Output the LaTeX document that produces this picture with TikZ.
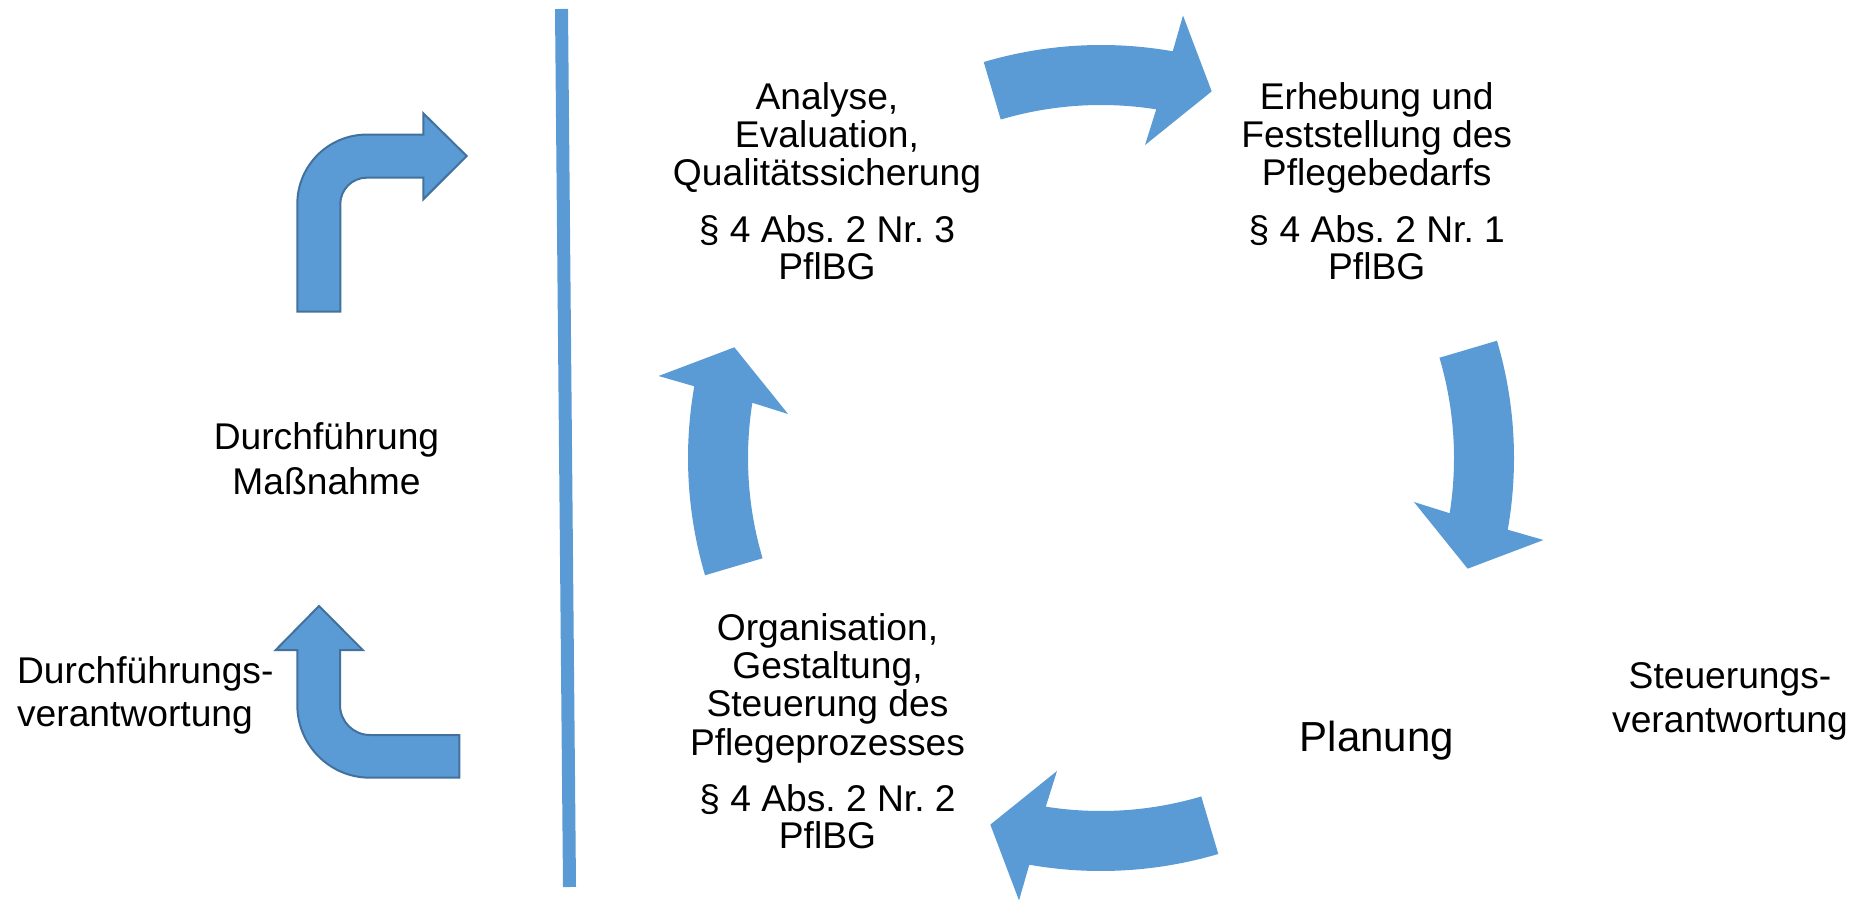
\documentclass[tikz,border=0pt]{standalone}
\usepackage{fontspec}
\setmainfont{Liberation Sans}
\frenchspacing
\definecolor{ablue}{HTML}{5B9BD5}
\definecolor{aedge}{HTML}{41719C}
\tikzset{
  txt/.style={font=\fontsize{18.6}{22}\selectfont, inner sep=0pt, anchor=base},
  txtl/.style={txt, anchor=base west},
  big/.style={font=\fontsize{21}{24}\selectfont, inner sep=0pt, anchor=base},
  cyc/.style={fill=ablue},
  bent/.style={fill=ablue, draw=aedge, line width=1pt, line join=miter},
  sep/.style={draw=ablue, line width=6.5pt}
}
\begin{document}
\begin{tikzpicture}[x=0.5pt,y=0.5pt]
\useasboundingbox (0,0) rectangle (1855,900);

% separator line
\coordinate (lt) at (561.5,891);
\coordinate (lb) at (569.5,13);
\draw[sep] (lt) -- (lb);

% cycle arrows
\begin{scope}[shift={(1101,442)}]
\foreach \B in {90,0,-90,180}{
  \fill[cyc] ({\B+16.5}:413) arc[start angle={\B+16.5}, end angle={\B-10}, radius=413]
    -- ({\B-10.5}:450) -- ({\B-16.8}:383) -- ({\B-8}:316) -- ({\B-9}:353)
    arc[start angle={\B-9}, end angle={\B+16.5}, radius=353] -- cycle;
}
\end{scope}

% bent arrow (top)
\draw[bent] (297.3,588.3) -- (297.3,696) arc[start angle=180, end angle=90, radius=69.4]
  -- (423.3,765.4) -- (423.3,786.7) -- (466.7,744) -- (423.3,700.7) -- (423.3,722.3)
  -- (366.7,722.3) arc[start angle=90, end angle=180, radius=26.4] -- (340.3,588.3) -- cycle;

% bent arrow (bottom)
\draw[bent] (319,294) -- (362.7,250) -- (340,250) -- (340,195)
  arc[start angle=180, end angle=270, radius=30] -- (459.3,165) -- (459.3,122.3)
  -- (370,122.3) arc[start angle=270, end angle=180, radius=72.7] -- (297.3,250)
  -- (275.7,250) -- cycle;

% texts: top left block
\node[txt] (a1) at (827,790) {Analyse,};
\node[txt] (a2) at (827,752.7) {Evaluation,};
\node[txt] (a3) at (827,714) {Qualitätssicherung};
\node[txt] (a4) at (827,657.3) {§ 4 Abs. 2 Nr. 3};
\node[txt] (a5) at (827,620) {PflBG};

% top right block
\node[txt] (e1) at (1376.7,790) {Erhebung und};
\node[txt] (e2) at (1376.7,752.7) {Feststellung des};
\node[txt] (e3) at (1376.7,714) {Pflegebedarfs};
\node[txt] (e4) at (1376.7,657.3) {§ 4 Abs. 2 Nr. 1};
\node[txt] (e5) at (1376.7,620) {PflBG};

% bottom block
\node[txt] (o1) at (827.5,260) {Organisation,};
\node[txt] (o2) at (827.5,221.7) {Gestaltung,};
\node[txt] (o3) at (827.5,183.3) {Steuerung des};
\node[txt] (o4) at (827.5,144.3) {Pflegeprozesses};
\node[txt] (o5) at (827.5,89) {§ 4 Abs. 2 Nr. 2};
\node[txt] (o6) at (827.5,51.7) {PflBG};

% Planung
\node[big] (pl) at (1377,149) {Planung};

% Steuerungsverantwortung
\node[txt] (s1) at (1730,212) {Steuerungs-};
\node[txt] (s2) at (1730,168) {verantwortung};

% Durchfuehrung Massnahme
\node[txt] (d1) at (326.5,450) {Durchführung};
\node[txt] (d2) at (326.5,405) {Maßnahme};

% Durchfuehrungsverantwortung
\node[txtl] (v1) at (16.7,216.7) {Durchführungs-};
\node[txtl] (v2) at (16.7,173.3) {verantwortung};
\end{tikzpicture}
\end{document}
